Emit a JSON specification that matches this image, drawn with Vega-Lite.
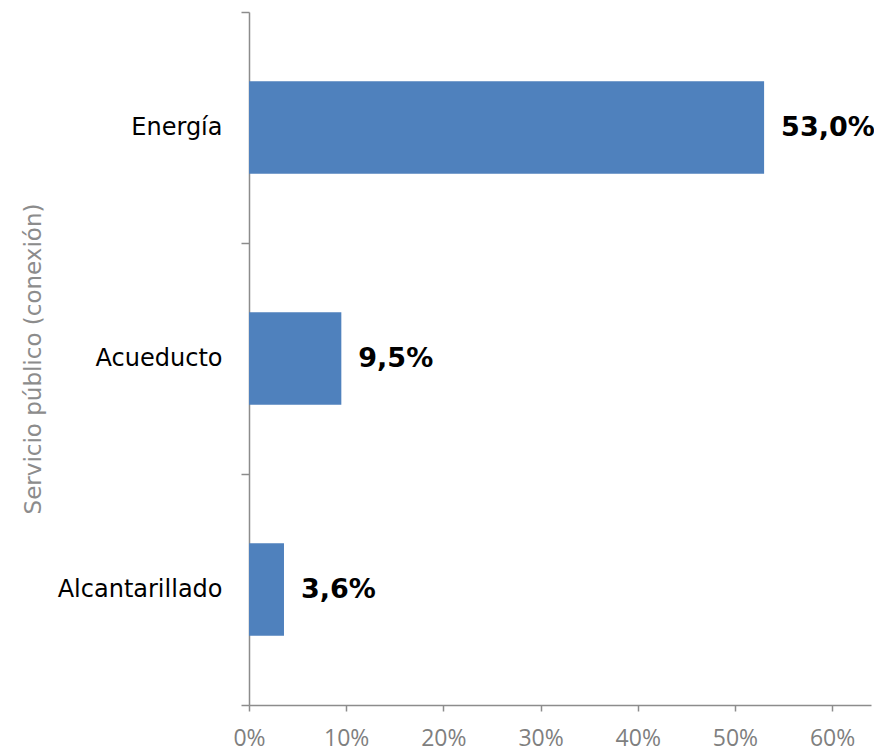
{
  "$schema": "https://vega.github.io/schema/vega-lite/v6.json",
  "autosize": {"type": "none"},
  "padding": {"left": 249, "top": 12, "right": 3, "bottom": 46},
  "width": 622,
  "height": 693,
  "background": "white",
  "config": {
    "view": {"stroke": null},
    "locale": {"number": {"decimal": ",", "thousands": ".", "grouping": [3], "currency": ["", " €"]}}
  },
  "data": {"values": [
    {"servicio": "Energía", "valor": 0.530},
    {"servicio": "Acueducto", "valor": 0.095},
    {"servicio": "Alcantarillado", "valor": 0.036}
  ]},
  "encoding": {
    "y": {
      "field": "servicio", "type": "nominal", "sort": null,
      "scale": {"paddingInner": 0, "paddingOuter": 0},
      "axis": {
        "title": "Servicio público (conexión)",
        "titleFont": "DejaVu Sans", "titleFontSize": 23, "titleFontWeight": "normal", "titleColor": "#8c8c8c",
        "titlePadding": 12,
        "labelFont": "DejaVu Sans", "labelFontSize": 24, "labelColor": "#000000", "labelPadding": 19,
        "tickBand": "extent", "tickSize": 8, "tickColor": "#8c8c8c", "tickWidth": 1.5,
        "domainColor": "#8c8c8c", "domainWidth": 1.5
      }
    },
    "x": {
      "field": "valor", "type": "quantitative",
      "scale": {"domain": [0, 0.64], "nice": false},
      "axis": {
        "title": null, "format": ".0%", "values": [0, 0.1, 0.2, 0.3, 0.4, 0.5, 0.6],
        "labelFlush": false,
        "grid": false, "labelFont": "Open Sans", "labelFontSize": 23, "labelColor": "#7f7f7f",
        "labelPadding": 16, "tickSize": 6, "tickColor": "#8c8c8c", "tickWidth": 1.5,
        "domainColor": "#8c8c8c", "domainWidth": 1.5
      }
    }
  },
  "layer": [
    {"mark": {"type": "bar", "color": "#4f81bd", "height": {"band": 0.4}}},
    {
      "mark": {"type": "text", "align": "left", "baseline": "middle", "dx": 17, "font": "DejaVu Sans", "fontSize": 27, "fontWeight": "bold", "color": "#000000"},
      "encoding": {"text": {"field": "valor", "type": "quantitative", "format": ".1%"}}
    }
  ]
}
